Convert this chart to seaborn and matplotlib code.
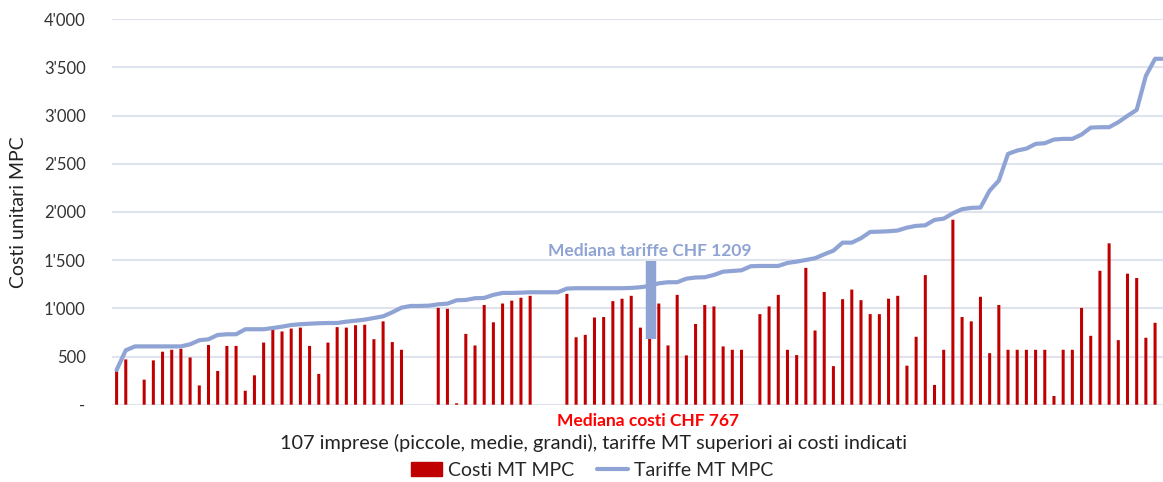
import numpy as np
import pandas as pd
import matplotlib
matplotlib.use("Agg")
import matplotlib.pyplot as plt
from matplotlib.patches import Patch
from matplotlib.lines import Line2D
import seaborn as sns

sns.set_theme(style="white")
plt.rcParams['font.family'] = ['Lato', 'DejaVu Sans']

# ---------------------------
# Data
# ---------------------------
costi = [350, 470, 0, 260, 460, 550, 570, 580, 490, 200,
         620, 350, 610, 610, 145, 305, 645, 785, 760, 790,
         800, 610, 320, 645, 805, 800, 825, 830, 680, 865,
         650, 570, 0, 0, 0, 1005, 995, 15, 735, 615,
         1035, 855, 1050, 1080, 1110, 1130, 0, 0, 0, 1150,
         700, 725, 905, 910, 1075, 1100, 1130, 800, 767, 1050,
         615, 1140, 512, 838, 1035, 1020, 605, 570, 570, 0,
         940, 1020, 1140, 570, 515, 1420, 770, 1170, 400, 1095,
         1195, 1085, 940, 940, 1100, 1130, 405, 705, 1345, 205,
         570, 1920, 910, 865, 1120, 535, 1035, 570, 570, 570,
         570, 570, 90, 570, 570, 1005, 715, 1390, 1675, 670,
         1360, 1315, 695, 850]

tariffe = [360, 565, 605, 605, 605, 605, 605, 605, 627, 669,
           679, 724, 731, 731, 783, 783, 783, 796, 810, 827,
           835, 841, 845, 848, 848, 862, 872, 883, 900, 917,
           959, 1007, 1025, 1025, 1028, 1042, 1049, 1084, 1087, 1105,
           1108, 1140, 1160, 1160, 1163, 1167, 1167, 1167, 1167, 1205,
           1209, 1209, 1209, 1209, 1209, 1209, 1212, 1219, 1233, 1260,
           1271, 1271, 1308, 1320, 1323, 1347, 1381, 1388, 1395, 1437,
           1440, 1440, 1440, 1471, 1485, 1502, 1520, 1561, 1599, 1682,
           1682, 1728, 1793, 1796, 1800, 1808, 1838, 1856, 1862, 1918,
           1931, 1987, 2029, 2043, 2046, 2222, 2326, 2603, 2638, 2658,
           2707, 2714, 2752, 2759, 2759, 2804, 2876, 2880, 2880, 2932,
           2998, 3060, 3413, 3590, 3590]

y_ticks = [0, 500, 1000, 1500, 2000, 2500, 3000, 3500, 4000]
y_labels = ['-', '500', "1'000", "1'500", "2'000", "2'500", "3'000", "3'500", "4'000"]

mediana_tariffe = 1209
mediana_costi = 767
idx_mediana = 58
marker_range = [679, 1489]

RED = "#C00000"
BLUE = "#8FA4D4"
GRID = "#DFE3EE"

bars_df = pd.DataFrame({"impresa": np.arange(len(costi)), "costo": costi})
line_df = pd.DataFrame({"impresa": np.arange(len(tariffe)), "tariffa": tariffe})

# ---------------------------
# Plot
# ---------------------------
fig = plt.figure(figsize=(11.63, 4.82), dpi=100)
cat_px = 9.19
ax_w = 1051 / 1163
ax = fig.add_axes([112 / 1163, 77.3 / 482, ax_w, 385.4 / 482])

sns.barplot(data=bars_df, x="impresa", y="costo", color=RED, width=0.33,
            saturation=1, ax=ax, zorder=2)
for p in ax.patches:
    p.set_snap(False)
    p.set_linewidth(0)
sns.lineplot(data=line_df, x="impresa", y="tariffa", color=BLUE, linewidth=3.0,
             ax=ax, zorder=3)

# median marker
ax.vlines(idx_mediana + 0.2, marker_range[0], marker_range[1], color=BLUE,
          linewidth=7.5, zorder=4)

ax.set_xlim(-0.5, -0.5 + 1051 / cat_px)
ax.set_ylim(0, 4000)
ax.set_yticks(y_ticks)
ax.set_yticklabels(y_labels)
ax.set_xticks([])
ax.yaxis.grid(True, color=GRID, linewidth=1.5, zorder=0)
ax.set_axisbelow(True)
for s in ax.spines.values():
    s.set_visible(False)
ax.tick_params(axis='y', length=0, pad=19, labelsize=12, labelcolor="#333333")
ax.set_xlabel("")
ax.set_ylabel("Costi unitari MPC", fontsize=14, color="#222222")
ax.yaxis.set_label_coords(-0.081, 0.5)

fig.text(650 / 1163, 1 - 251 / 482, f"Mediana tariffe CHF {mediana_tariffe}",
         color=BLUE, fontsize=12.5, fontweight="bold", ha="center", va="center")
fig.text(648 / 1163, 1 - 421 / 482, f"Mediana costi CHF {mediana_costi}",
         color="#FF0000", fontsize=12.5, fontweight="bold", ha="center", va="center")
fig.text(594 / 1163, 1 - 443 / 482,
         "107 imprese (piccole, medie, grandi), tariffe MT superiori ai costi indicati",
         color="#222222", fontsize=14.3, ha="center", va="center")

handles = [Patch(facecolor=RED, edgecolor=RED),
           Line2D([0], [0], color=BLUE, linewidth=3.0)]
fig.legend(handles, ["Costi MT MPC", "Tariffe MT MPC"], loc="center",
           bbox_to_anchor=(592 / 1163, 1 - 470 / 482), ncol=2, frameon=False,
           fontsize=14, handlelength=1.6, handletextpad=0.3, columnspacing=1.2)

fig.savefig("out.png", dpi=100)
